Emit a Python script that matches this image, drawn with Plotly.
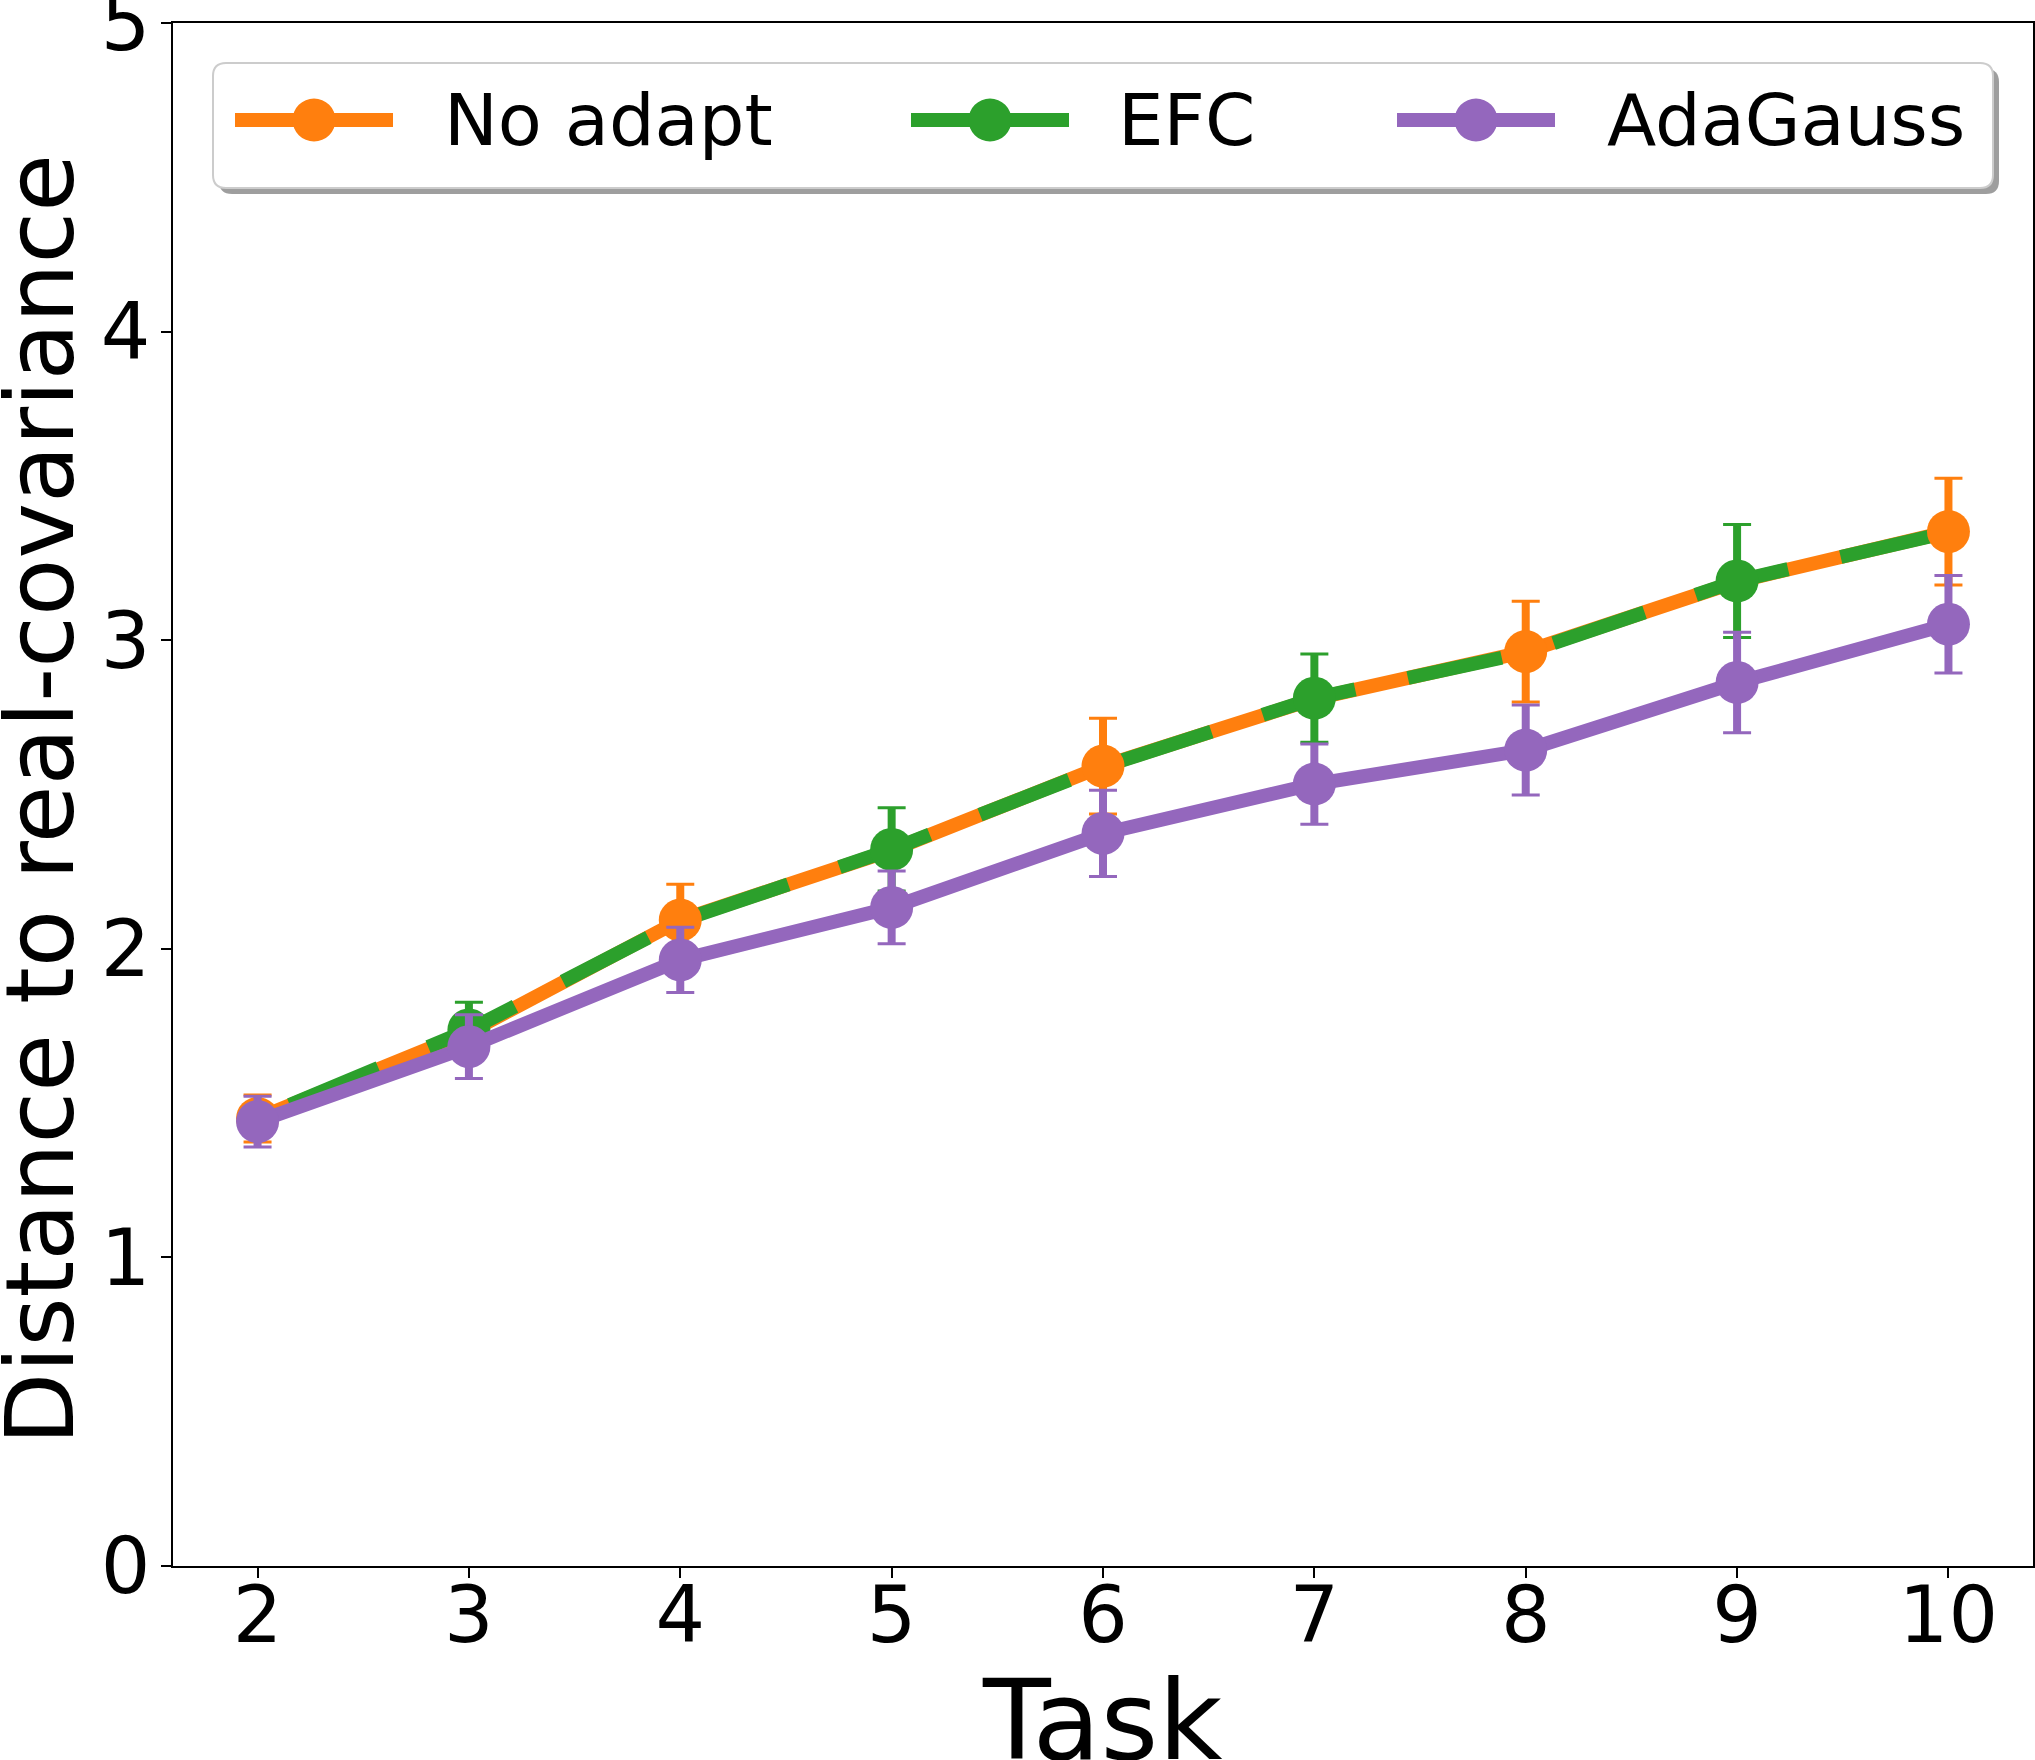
import plotly.graph_objects as go

# ---------------- data ----------------
tasks = [2, 3, 4, 5, 6, 7, 8, 9, 10]
no_adapt = [1.45, 1.73, 2.093, 2.32, 2.592, 2.81, 2.963, 3.19, 3.352]
no_adapt_err = [0.076, 0.09, 0.116, 0.135, 0.155, 0.143, 0.163, 0.183, 0.173]
efc = [1.45, 1.737, 2.09, 2.322, 2.59, 2.812, 2.96, 3.192, 3.35]
efc_err = [0.075, 0.09, 0.115, 0.135, 0.155, 0.143, 0.163, 0.183, 0.173]
adagauss = [1.44, 1.683, 1.964, 2.134, 2.374, 2.534, 2.644, 2.863, 3.052]
adagauss_err = [0.082, 0.103, 0.106, 0.118, 0.14, 0.13, 0.146, 0.163, 0.158]

series_names = ["No adapt", "EFC", "AdaGauss"]
colors = ["#ff7f0e", "#2ca02c", "#9467bd"]
y_ticks = [0, 1, 2, 3, 4, 5]
x_title = "Task"
y_title = "Distance to real-covariance"

# ---------------- layout geometry ----------------
W, H = 2035, 1760
L, R, T, B = 173, 2, 23, 194
PW, PH = W - L - R, H - T - B
FONT = "DejaVu Sans"
LW = 14
MS = 43
STEM = 8
CAPT = 3
CAPW = 14


def px_x(px):
    return (px - L) / PW


def px_y(py):
    return (H - B - py) / PH


fig = go.Figure()

# lines for No adapt (solid) and EFC (dashed on top)
fig.add_trace(go.Scatter(x=tasks, y=no_adapt, mode="lines",
                         line=dict(color=colors[0], width=LW),
                         showlegend=False, hoverinfo="skip"))
fig.add_trace(go.Scatter(x=tasks, y=efc, mode="lines",
                         line=dict(color=colors[1], width=LW, dash="0px,35px,96px,19px"),
                         showlegend=False, hoverinfo="skip"))


def marker_traces(xs, ys, es, color, name):
    # thick stems
    fig.add_trace(go.Scatter(x=xs, y=ys, mode="markers",
                             marker=dict(size=1, color="rgba(0,0,0,0)"),
                             error_y=dict(type="data", array=es, visible=True,
                                          color=color, thickness=STEM, width=0),
                             showlegend=False, hoverinfo="skip"))
    # caps + markers
    fig.add_trace(go.Scatter(x=xs, y=ys, mode="markers", name=name,
                             marker=dict(size=MS, color=color, line=dict(width=0)),
                             error_y=dict(type="data", array=es, visible=True,
                                          color=color, thickness=CAPT, width=CAPW),
                             showlegend=False))


even = [i for i in range(len(tasks)) if i % 2 == 0]
odd = [i for i in range(len(tasks)) if i % 2 == 1]

marker_traces([tasks[i] for i in even], [no_adapt[i] for i in even],
              [no_adapt_err[i] for i in even], colors[0], series_names[0])
marker_traces([tasks[i] for i in odd], [efc[i] for i in odd],
              [efc_err[i] for i in odd], colors[1], series_names[1])

# AdaGauss
fig.add_trace(go.Scatter(x=tasks, y=adagauss, mode="markers",
                         marker=dict(size=1, color="rgba(0,0,0,0)"),
                         error_y=dict(type="data", array=adagauss_err, visible=True,
                                      color=colors[2], thickness=STEM, width=0),
                         showlegend=False, hoverinfo="skip"))
fig.add_trace(go.Scatter(x=tasks, y=adagauss, mode="lines+markers", name=series_names[2],
                         line=dict(color=colors[2], width=LW),
                         marker=dict(size=MS, color=colors[2], line=dict(width=0)),
                         error_y=dict(type="data", array=adagauss_err, visible=True,
                                      color=colors[2], thickness=CAPT, width=CAPW),
                         showlegend=False))

# ---------------- custom legend (matplotlib style) ----------------
shapes = []


def rrect(x0, y0, x1, y1, r):
    # rounded rectangle path in paper coordinates, pixel inputs
    X = px_x
    Y = px_y
    p = (f"M {X(x0 + r)},{Y(y0)} L {X(x1 - r)},{Y(y0)} Q {X(x1)},{Y(y0)} {X(x1)},{Y(y0 + r)} "
         f"L {X(x1)},{Y(y1 - r)} Q {X(x1)},{Y(y1)} {X(x1 - r)},{Y(y1)} "
         f"L {X(x0 + r)},{Y(y1)} Q {X(x0)},{Y(y1)} {X(x0)},{Y(y1 - r)} "
         f"L {X(x0)},{Y(y0 + r)} Q {X(x0)},{Y(y0)} {X(x0 + r)},{Y(y0)} Z")
    return p


bx0, by0, bx1, by1 = 213, 63, 1993, 188
shapes.append(dict(type="path", xref="paper", yref="paper", layer="above",
                   path=rrect(bx0 + 6, by0 + 6, bx1 + 6, by1 + 6, 13),
                   fillcolor="rgba(0,0,0,0.38)", line=dict(width=0)))
shapes.append(dict(type="path", xref="paper", yref="paper", layer="above",
                   path=rrect(bx0, by0, bx1, by1, 13),
                   fillcolor="white", line=dict(color="#cccccc", width=2)))

handle_centers = [314, 990, 1476]
text_x = [442, 1116, 1605]
ly = 120
annotations = []
for name, col, hc, tx in zip(series_names, colors, handle_centers, text_x):
    shapes.append(dict(type="line", xref="paper", yref="paper", layer="above",
                       x0=px_x(hc - 79), x1=px_x(hc + 79), y0=px_y(ly), y1=px_y(ly),
                       line=dict(color=col, width=LW)))
    shapes.append(dict(type="circle", xref="paper", yref="paper", layer="above",
                       xsizemode="pixel", ysizemode="pixel",
                       xanchor=px_x(hc), yanchor=px_y(ly),
                       x0=-MS / 2, x1=MS / 2, y0=-MS / 2, y1=MS / 2,
                       fillcolor=col, line=dict(width=0)))
    annotations.append(dict(text=name, xref="paper", yref="paper",
                            x=px_x(tx), y=px_y(ly), xanchor="left", yanchor="middle",
                            showarrow=False, font=dict(family=FONT, size=72, color="black")))

# axis titles
annotations.append(dict(text=x_title, xref="paper", yref="paper",
                        x=px_x(1102), y=px_y(1720), xanchor="center", yanchor="middle",
                        showarrow=False, font=dict(family=FONT, size=111, color="black")))
annotations.append(dict(text=y_title, xref="paper", yref="paper", textangle=-90,
                        x=px_x(40), y=px_y(800), xanchor="center", yanchor="middle",
                        showarrow=False, font=dict(family=FONT, size=94, color="black")))

axis_common = dict(showline=True, linecolor="black", linewidth=2, mirror=True,
                   ticks="outside", ticklen=10, tickwidth=2, tickcolor="black",
                   showgrid=False, zeroline=False, automargin=False,
                   ticklabeloverflow="allow",
                   tickfont=dict(family=FONT, size=78, color="black"))

fig.update_layout(
    width=W, height=H,
    margin=dict(l=L, r=R, t=T, b=B),
    plot_bgcolor="white", paper_bgcolor="white",
    font=dict(family=FONT, color="black"),
    showlegend=False,
    xaxis=dict(range=[1.6, 10.4], tickmode="array", tickvals=tasks,
               ticktext=[str(t) for t in tasks], ticklabelstandoff=-30,
               **axis_common),
    yaxis=dict(range=[0, 5], tickmode="array", tickvals=y_ticks,
               ticktext=[str(t) for t in y_ticks], ticklabelstandoff=-5,
               **axis_common),
    shapes=shapes,
    annotations=annotations,
)

fig.write_html("out.html", config={"displayModeBar": False},
               post_script="document.body.style.margin='0';")
